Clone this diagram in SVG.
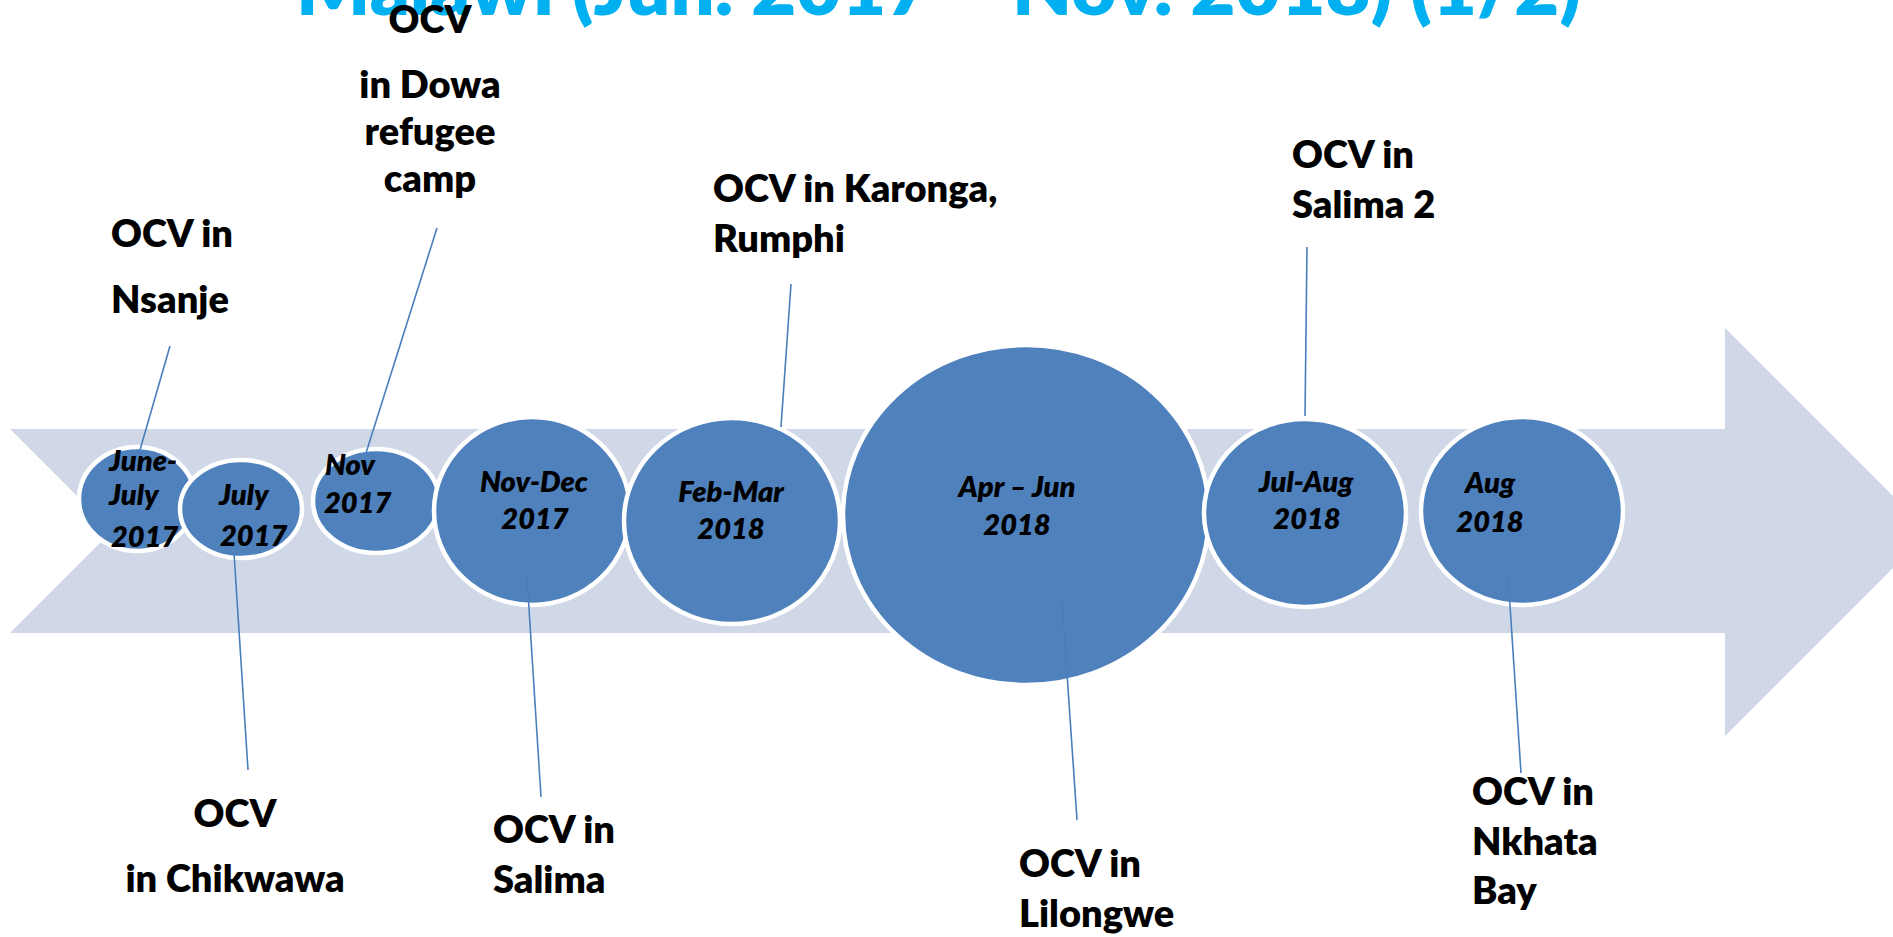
<svg xmlns="http://www.w3.org/2000/svg" width="1893" height="937" viewBox="0 0 1893 937">
<style>
.band{fill:#D0D8E8}
.c{fill:#4F81BD;stroke:#FFFFFF;stroke-width:4.5}
.ln{stroke:#4A7EBB;stroke-width:1.6;fill:none}
.d{font-family:Lato,"Liberation Sans",sans-serif;font-weight:800;font-style:italic;font-size:29px;fill:#000}
.dm{text-anchor:middle}
.l{font-family:Lato,"Liberation Sans",sans-serif;font-weight:800;font-size:38px;fill:#000}
.lm{text-anchor:middle}
.t{font-family:Lato,"Liberation Sans",sans-serif;font-weight:800;font-size:75px;fill:#00B0F0}
</style>
<rect width="1893" height="937" fill="#FFFFFF"/>
<text class="t" x="296" y="15" textLength="1285" lengthAdjust="spacingAndGlyphs">Malawi (Jun. 2017 – Nov. 2018) (1/2)</text>
<polygon class="band" points="10,429 1725,429 1725,328 1929,532 1725,736 1725,633 10,633 112,531"/>
<g id="n1"><ellipse class="c" cx="137" cy="499" rx="58" ry="52"/></g>
<g id="n2"><ellipse class="c" cx="241" cy="509" rx="61" ry="49"/></g>
<g id="n3"><ellipse class="c" cx="376" cy="501" rx="63" ry="52"/></g>
<g id="n4"><ellipse class="c" cx="532" cy="511" rx="98" ry="94"/></g>
<g id="n5"><ellipse class="c" cx="732" cy="521" rx="108" ry="103"/></g>
<g id="n6"><ellipse class="c" cx="1026" cy="515" rx="183" ry="170"/></g>
<g id="n7"><ellipse class="c" cx="1305" cy="513" rx="101" ry="94"/></g>
<g id="n8"><ellipse class="c" cx="1522" cy="511" rx="101" ry="94"/></g>
<g id="connectors">
<line class="ln" x1="170" y1="346" x2="140" y2="450"/>
<line class="ln" x1="437" y1="228" x2="366" y2="453"/>
<line class="ln" x1="234" y1="553" x2="248" y2="770"/>
<line class="ln" x1="527" y1="577" x2="541" y2="797"/>
<line class="ln" x1="791" y1="284" x2="781" y2="427"/>
<line class="ln" x1="1062" y1="600" x2="1077" y2="820"/>
<line class="ln" x1="1307" y1="247" x2="1305" y2="416"/>
<line class="ln" x1="1508" y1="575" x2="1521" y2="773"/>
</g>
<g id="dates">
<text class="d" x="109" y="471">June-</text>
<text class="d" x="109" y="505">July</text>
<text class="d" x="111" y="547">2017</text>
<text class="d" x="219" y="505">July</text>
<text class="d" x="220" y="546">2017</text>
<text class="d" x="325" y="475">Nov</text>
<text class="d" x="324" y="513">2017</text>
<text class="d dm" x="534" y="492">Nov-Dec</text>
<text class="d dm" x="535" y="529">2017</text>
<text class="d dm" x="731" y="502">Feb-Mar</text>
<text class="d dm" x="731" y="539">2018</text>
<text class="d dm" x="1017" y="497">Apr – Jun</text>
<text class="d dm" x="1017" y="535">2018</text>
<text class="d dm" x="1306" y="492">Jul-Aug</text>
<text class="d dm" x="1307" y="529">2018</text>
<text class="d dm" x="1490" y="493">Aug</text>
<text class="d dm" x="1490" y="532">2018</text>
</g>
<g id="labels">
<g id="lab-nsanje"><text class="l" x="111" y="247">OCV in</text><text class="l" x="111" y="313">Nsanje</text></g>
<g id="lab-dowa"><text class="l lm" x="430" y="33">OCV</text><text class="l lm" x="430" y="98">in Dowa</text><text class="l lm" x="430" y="145">refugee</text><text class="l lm" x="430" y="192">camp</text></g>
<g id="lab-karonga"><text class="l" x="713" y="202">OCV in Karonga,</text><text class="l" x="713" y="252">Rumphi</text></g>
<g id="lab-salima2"><text class="l" x="1292" y="168">OCV in</text><text class="l" x="1292" y="218">Salima 2</text></g>
<g id="lab-chikwawa"><text class="l lm" x="235" y="827">OCV</text><text class="l lm" x="235" y="892">in Chikwawa</text></g>
<g id="lab-salima"><text class="l" x="493" y="843">OCV in</text><text class="l" x="493" y="893">Salima</text></g>
<g id="lab-lilongwe"><text class="l" x="1019" y="877">OCV in</text><text class="l" x="1019" y="927">Lilongwe</text></g>
<g id="lab-nkhata"><text class="l" x="1472" y="805">OCV in</text><text class="l" x="1472" y="855">Nkhata</text><text class="l" x="1472" y="904">Bay</text></g>
</g>
</svg>
